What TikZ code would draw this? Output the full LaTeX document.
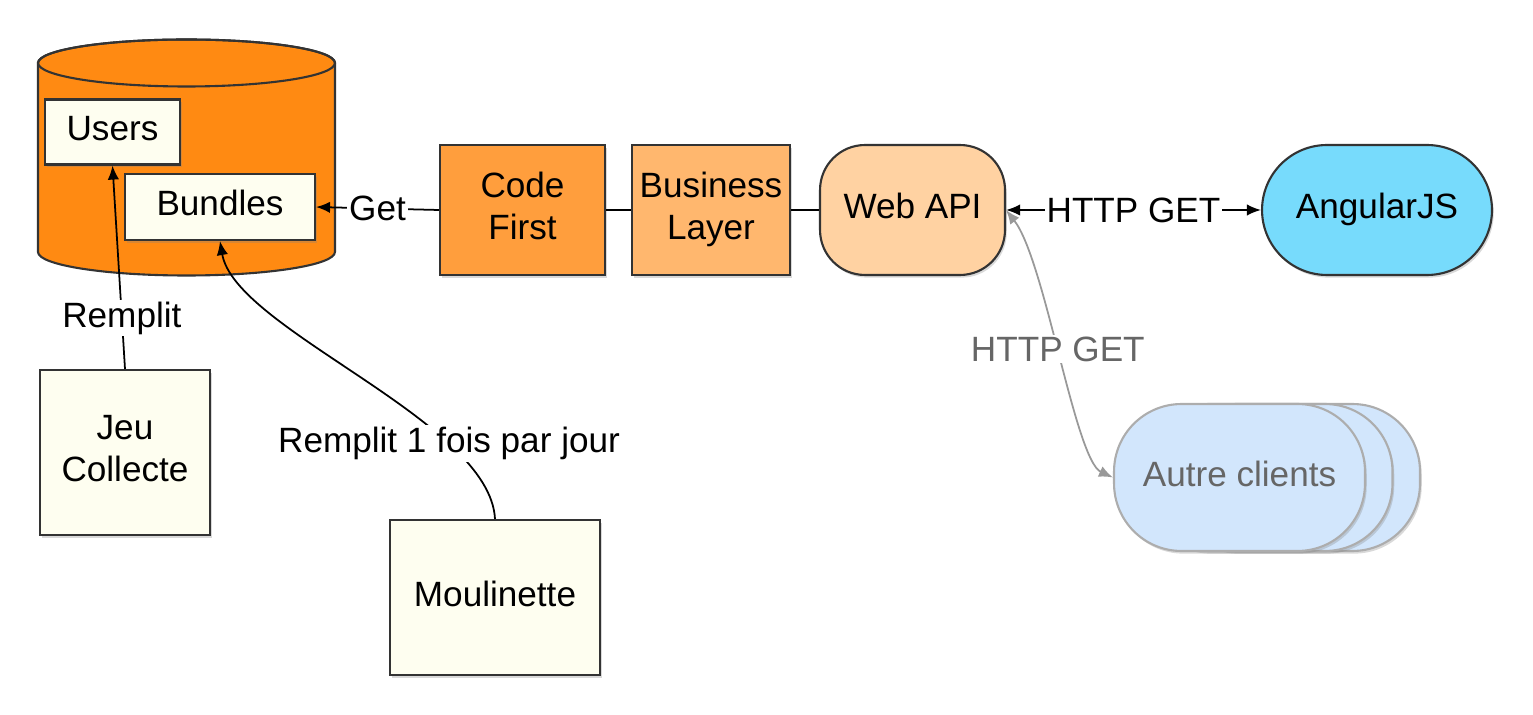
\documentclass[tikz,border=0pt]{standalone}
\usepackage{fontspec}
\setmainfont{Liberation Sans}
\usepackage{tikz}
\usepackage{xcolor}
\usetikzlibrary{arrows.meta,shadows}

\definecolor{dborange}{HTML}{FF8A12}
\definecolor{codeorange}{HTML}{FF9E3D}
\definecolor{layerorange}{HTML}{FFB76E}
\definecolor{apiorange}{HTML}{FFD2A2}
\definecolor{ngblue}{HTML}{77DBFC}
\definecolor{clientblue}{HTML}{D2E6FC}
\definecolor{ivory}{HTML}{FEFEF0}
\definecolor{greytext}{HTML}{666666}

\tikzset{
  box/.style={draw=black!80, line width=1.2pt, align=center, inner sep=0pt,
    font=\fontsize{20}{24}\selectfont, text depth=4.5pt,
    drop shadow={shadow xshift=1pt, shadow yshift=-1.5pt, opacity=0.3}},
  tablebox/.style={box, fill=ivory},
  clientbox/.style={box, draw=black!32, fill=clientblue, text=greytext,
    rounded corners=1.35cm, minimum width=5.02cm, minimum height=2.94cm},
  conn/.style={line width=1pt},
  lbl/.style={fill=white, inner sep=1pt, font=\fontsize{20}{24}\selectfont},
  >={Latex[length=8pt,width=6.5pt]}
}

\begin{document}
\begin{tikzpicture}[x=0.02cm,y=-0.02cm]
            \useasboundingbox (0,0) rectangle (1533,715);
            % base de donnees
            \filldraw[fill=dborange, draw=black!80, line width=1.2pt] (38,63) -- (38,252)
                arc[start angle=180, end angle=360, x radius=2.97cm, y radius=0.47cm] -- (335,63)
                arc[start angle=0, end angle=180, x radius=2.97cm, y radius=0.47cm] -- cycle;
            \draw[black!80, line width=1.2pt] (186.5,63) ellipse[x radius=2.97cm, y radius=0.47cm];
            \node[tablebox, minimum width=2.7cm, minimum height=1.3cm] (users) at (112.5,132) {Users};
            \node[tablebox, minimum width=3.8cm, minimum height=1.32cm] (bundles) at (220,207) {Bundles};
            % couches
            \node[box, fill=codeorange, minimum width=3.3cm, minimum height=2.6cm] (code) at (522.5,210) {Code\\First};
            \node[box, fill=layerorange, minimum width=3.16cm, minimum height=2.6cm] (layer) at (711,210) {Business\\Layer};
            \node[box, fill=apiorange, rounded corners=0.9cm, minimum width=3.7cm, minimum height=2.6cm] (api) at (912.5,210) {Web API};
            \node[box, fill=ngblue, rounded corners=1.3cm, minimum width=4.6cm, minimum height=2.6cm] (ng) at (1377,210) {AngularJS};
            % clients
            \node[clientbox] (clientsc) at (1294.5,477.5) {};
            \node[clientbox] (clientsb) at (1267,477.5) {};
            \node[clientbox] (clients) at (1239.5,477.5) {Autre clients};
            % alimentation
            \node[tablebox, minimum width=3.4cm, minimum height=3.3cm] (jeu) at (125,452.5) {Jeu\\Collecte};
            \node[tablebox, minimum width=4.2cm, minimum height=3.1cm] (moul) at (495,597.5) {Moulinette};

            \draw[conn, ->] (code.west) -- node[lbl]{Get} (bundles.east);
            \draw[conn] (code) -- (layer);
            \draw[conn] (layer) -- (api);
            \draw[conn, <->] (api) -- node[lbl]{HTTP GET} (ng);
            \draw[conn, black!40, <->] (api.east) .. controls (1045,260) and (1075,460) .. node[lbl, text=greytext, pos=0.48]{HTTP GET} (clients.west);
            \draw[conn, ->] (jeu.north) -- node[lbl, pos=0.25]{Remplit} (users.south);
            \draw[conn, ->] (moul.north) .. controls (490,420) and (235,330) .. node[lbl, pos=0.26]{Remplit 1 fois par jour} (bundles.south);
        \end{tikzpicture}
\end{document}
